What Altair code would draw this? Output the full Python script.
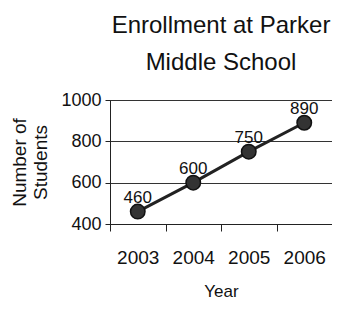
import altair as alt
import pandas as pd

years = ["2003", "2004", "2005", "2006"]
students = [460, 600, 750, 890]
y_ticks = [400, 600, 800, 1000]

df = pd.DataFrame({"Year": years, "Students": students})

FONT = "Liberation Sans"
INK = "#222222"

x_enc = alt.X(
    "Year:O",
    sort=years,
    bandPosition=0.5,
    scale=alt.Scale(type="band", paddingInner=0, paddingOuter=0),
    axis=alt.Axis(
        title="Year",
        labelAngle=0,
        tickBand="extent",
        tickSize=7,
        tickColor=INK,
        domainColor=INK,
        labelPadding=17,
        labelFontSize=19,
        labelColor="#111111",
        labelFont=FONT,
        titleFont=FONT,
        titleFontSize=17,
        titleFontWeight="normal",
        titleColor="#111111",
        titlePadding=16,
        grid=False,
    ),
)
y_enc = alt.Y(
    "Students:Q",
    scale=alt.Scale(domain=[400, 1000], nice=False, zero=False),
    axis=alt.Axis(
        values=y_ticks,
        format="d",
        title=["Number of", "Students"],
        titleFont=FONT,
        titleFontSize=19,
        titleFontWeight="normal",
        titleColor="#111111",
        titlePadding=10,
        titleLineHeight=21,
        labelFont=FONT,
        labelFontSize=18,
        labelColor="#111111",
        labelPadding=4,
        tickSize=5,
        tickColor=INK,
        domainColor=INK,
        grid=True,
        gridColor="#333333",
        gridWidth=1,
    ),
)

base = alt.Chart(df).encode(x=x_enc, y=y_enc)

line = base.mark_line(color=INK, strokeWidth=3)
points = base.mark_point(filled=True, size=210, color="#333333", stroke="#111111", strokeWidth=1.5, opacity=1)
labels = base.mark_text(font=FONT, fontSize=17, color="#111111", dy=-14, baseline="middle").encode(
    text="Students:Q"
)

chart = (
    alt.layer(line, points, labels)
    .properties(
        width=222,
        height=124,
        autosize=alt.AutoSizeParams(type="none"),
        padding={"left": 102, "top": 92, "right": 0, "bottom": 77},
        title=alt.TitleParams(
            text=["Enrollment at Parker", "Middle School"],
            font=FONT,
            fontSize=24,
            fontWeight="normal",
            color="#111111",
            lineHeight=37,
            anchor="middle",
            offset=16,
        ),
    )
    .configure_view(stroke=INK, strokeWidth=1)
)

chart.save("out.html", embed_options={"renderer": "svg", "actions": False})
